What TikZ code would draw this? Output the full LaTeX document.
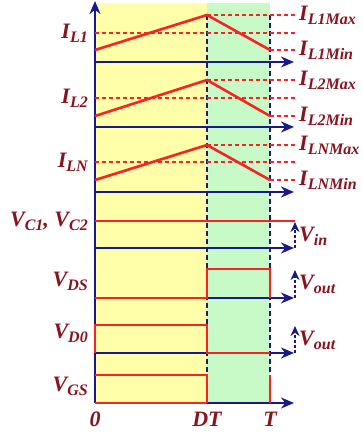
\documentclass[tikz,border=0pt]{standalone}
\usepackage{fontspec}
\setmainfont{Liberation Serif}
\usetikzlibrary{arrows.meta, positioning, calc}
\definecolor{navy}{RGB}{25,25,140}
\definecolor{wred}{RGB}{250,35,35}
\definecolor{lblred}{RGB}{135,20,30}
\definecolor{bgyellow}{RGB}{255,255,170}
\definecolor{bggreen}{RGB}{200,250,200}
\newcommand{\sig}[2]{#1\raisebox{-4pt}{\fontsize{16}{16}\selectfont #2}}

\begin{document}
\begin{tikzpicture}[x=1pt, y=-1pt,
        axis/.style={navy, line width=2.8pt, -{Stealth[length=13pt, width=11pt]}},
        wave/.style={wred, line width=2.6pt},
        lvl/.style={wred, line width=1.6pt, dash pattern=on 4pt off 3pt},
        tick/.style={navy, line width=2.6pt, dash pattern=on 5pt off 3pt},
        varr/.style={navy, line width=2.4pt, dash pattern=on 3pt off 2pt, -{Stealth[length=10pt, width=9pt]}},
        lbl/.style={text=lblred, font=\fontsize{22}{22}\selectfont\bfseries\itshape, inner sep=1pt}]
    \useasboundingbox (0,0) rectangle (362,436);
    % shaded intervals 0..DT and DT..T
    \fill[bgyellow] (95,3) rectangle (207,403);
    \fill[bggreen] (207,3) rectangle (270,403);
    \draw[tick] (207,15) -- (207,403);
    \draw[tick] (270,15) -- (270,403);
    % axes
    \foreach \y in {62,127,192,248,298,353,403}
        \draw[axis] (95,\y) -- (294,\y);
    \draw[axis] (95,403) -- (95,1);
    % inductor currents: min, mid, max levels
    \foreach \n/\lo/\mid/\hi in {1/50/33/15, 2/116/98/80, N/180/162/145} {
        \draw[wave] (95,\lo) -- (207,\hi) -- (270,\lo);
        \draw[lvl] (95,\mid) -- (295,\mid);
        \draw[lvl] (207,\hi) -- (297,\hi);
        \draw[lvl] (270,\lo) -- (297,\lo);
        \node[lbl, anchor=east] (il\n) at (89,\mid) {\sig{I}{L\n}};
        \node[lbl, anchor=west] (il\n max) at (298,\hi) {\sig{I}{L\n Max}};
        \node[lbl, anchor=west] (il\n min) at (298,\lo) {\sig{I}{L\n Min}};
    }
    % capacitor voltages
    \draw[wave] (95,221) -- (295,221);
    \node[lbl, anchor=east] (vc) at (89,221) {\sig{V}{C1}, \sig{V}{C2}};
    \draw[varr] (295,248) -- (295,222);
    \node[lbl, anchor=west] (vin) at (298,236) {\sig{V}{in}};
    % switch voltage
    \draw[wave] (95,298) -- (207,298) -- (207,269) -- (270,269) -- (270,298);
    \node[lbl, anchor=east] (vds) at (89,281) {\sig{V}{DS}};
    \draw[varr] (295,298) -- (295,270);
    \node[lbl, anchor=west] (vout1) at (298,284) {\sig{V}{out}};
    % diode voltage
    \draw[wave] (95,353) -- (95,325) -- (207,325) -- (207,353) -- (270,353);
    \node[lbl, anchor=east] (vd) at (89,333) {\sig{V}{D0}};
    \draw[varr] (295,353) -- (295,326);
    \node[lbl, anchor=west] (vout2) at (298,340) {\sig{V}{out}};
    % gate signal
    \draw[wave] (95,403) -- (207,403);
    \draw[wave] (95,375) -- (207,375) -- (207,403);
    \draw[wave] (270,403) -- (270,375);
    \node[lbl, anchor=east] (vgs) at (89,386) {\sig{V}{GS}};
    % time marks
    \node[lbl] (t0) at (95,419) {0};
    \node[lbl] (tdt) at (207,419) {DT};
    \node[lbl] (tt) at (270,419) {T};
\end{tikzpicture}
\end{document}
